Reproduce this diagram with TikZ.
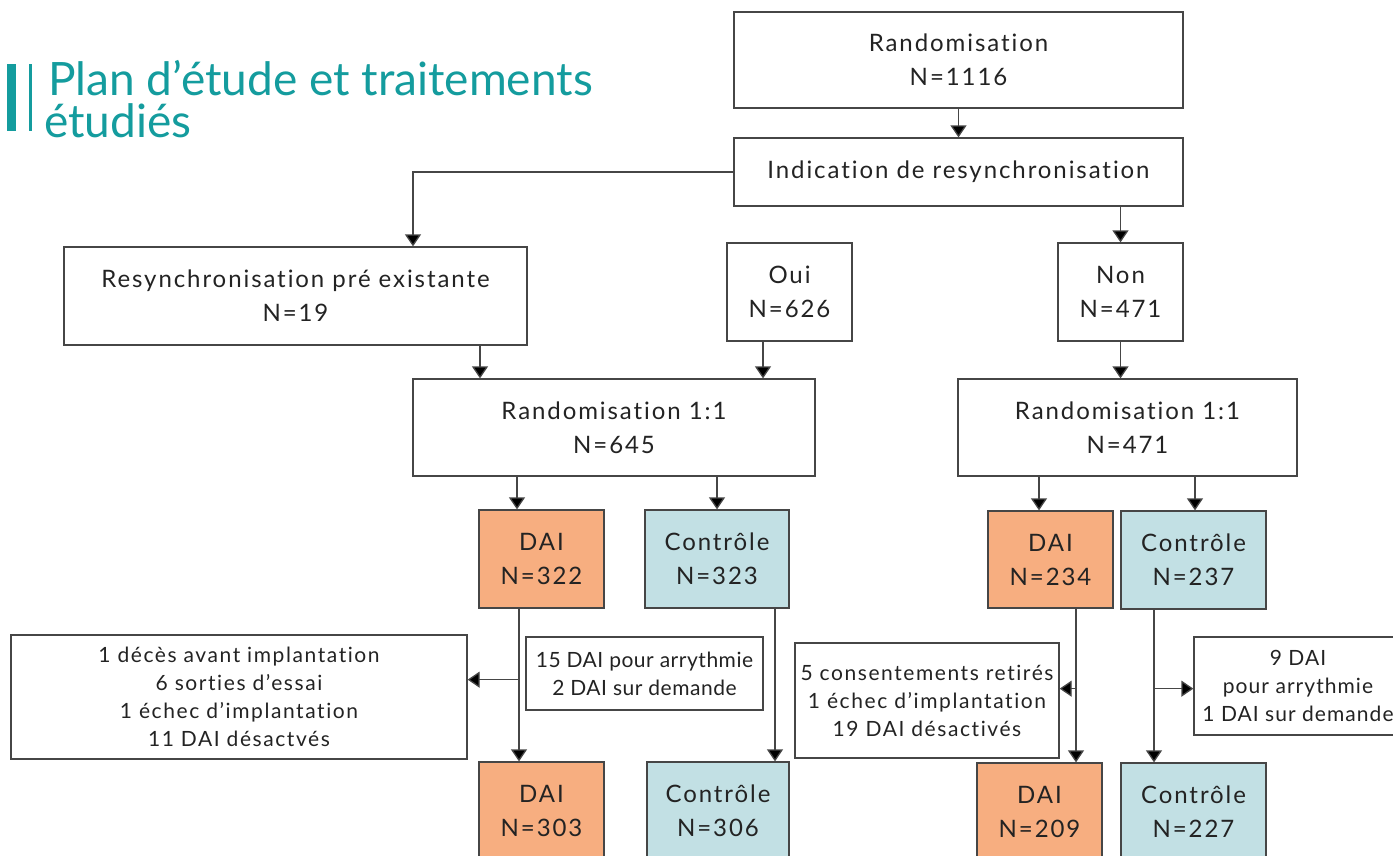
\documentclass[tikz,border=0pt]{standalone}
\usepackage{fontspec}
\usetikzlibrary{arrows.meta,calc}
\setmainfont{Lato}[Ligatures=NoCommon]
\newfontfamily\boxfont{Lato}[LetterSpace=8,Ligatures=NoCommon]
\newfontfamily\sidefont{Lato}[LetterSpace=7.5,Ligatures=NoCommon]
\newfontfamily\tightfont{Lato}[LetterSpace=2.5,Ligatures=NoCommon]
\newfontfamily\edgefont{Lato}[LetterSpace=5,Ligatures=NoCommon]
\definecolor{teal1}{RGB}{20,156,158}
\definecolor{orangef}{RGB}{247,174,128}
\definecolor{bluef}{RGB}{194,224,228}
\definecolor{linec}{RGB}{70,70,70}
\definecolor{txt}{RGB}{35,35,35}
\tikzset{
  box/.style={draw=linec, line width=1.3pt, align=center, inner sep=0pt, text=txt,
    font=\boxfont\fontsize{24}{34}\selectfont},
  sidebox/.style={box, font=\sidefont\fontsize{21}{28}\selectfont},
  daibox/.style={box, fill=orangef},
  ctlbox/.style={box, fill=bluef},
  arr/.style={draw=linec, line width=1.3pt, -{Triangle[length=12pt,width=16pt,fill=black]}},
}
\begin{document}
\begin{tikzpicture}[x=1pt,y=-1pt]
\clip (0,0) rectangle (1393,855);
\fill[white] (0,0) rectangle (1393,855);
% title
\fill[teal1] (7,64) rectangle (16,131);
\fill[teal1] (29,64) rectangle (32,131);
\node[anchor=base west, inner sep=0, text=teal1, font=\fontsize{46}{40}\selectfont] (t1) at (48,95) {Plan d’étude et traitements};
\node[anchor=base west, inner sep=0, text=teal1, font=\fontsize{46}{40}\selectfont] (t2) at (44,137) {étudiés};
% boxes
\node[box, minimum width=449pt, minimum height=96pt] (rand0) at (958.5,60) {Randomisation\\N=1116};
\node[box, minimum width=449pt, minimum height=68pt] (indic) at (958.5,172) {Indication de resynchronisation};
\node[box, minimum width=463pt, minimum height=98pt] (resync) at (295.5,296) {Resynchronisation pré existante\\N=19};
\node[box, minimum width=125pt, minimum height=98pt] (oui) at (789.5,292) {Oui\\N=626};
\node[box, minimum width=125pt, minimum height=98pt] (non) at (1120.5,292) {Non\\N=471};
\node[box, minimum width=402pt, minimum height=97pt] (randL) at (614,427.5) {Randomisation 1:1\\N=645};
\node[box, minimum width=339pt, minimum height=97pt] (randR) at (1127.5,427.5) {Randomisation 1:1\\N=471};
\node[daibox, minimum width=125pt, minimum height=98pt] (dai1) at (541.5,559) {DAI\\N=322};
\node[ctlbox, minimum width=144pt, minimum height=98pt] (ctl1) at (717,559) {Contrôle\\N=323};
\node[daibox, minimum width=125pt, minimum height=97pt] (dai2) at (1050.5,559.5) {DAI\\N=234};
\node[ctlbox, minimum width=145pt, minimum height=98pt] (ctl2) at (1193.5,560) {Contrôle\\N=237};
\node[sidebox, minimum width=456pt, minimum height=124pt] (side1) at (239,697) {1 décès avant implantation\\6 sorties d’essai\\1 échec d’implantation\\11 DAI désactvés};
\node[sidebox, minimum width=237pt, minimum height=73pt, font=\tightfont\fontsize{21}{28}\selectfont] (side2) at (644.5,673.5) {15 DAI pour arrythmie\\2 DAI sur demande};
\node[sidebox, minimum width=264pt, minimum height=115pt] (side3) at (927,700.5) {5 consentements retirés\\1 échec d’implantation\\19 DAI désactivés};
\node[sidebox, minimum width=208pt, minimum height=98pt, font=\edgefont\fontsize{21}{28}\selectfont] (side4) at (1298,686) {9 DAI\\pour arrythmie\\1 DAI sur demande};
\node[daibox, minimum width=125pt, minimum height=98pt] (dai3) at (541.5,811) {DAI\\N=303};
\node[ctlbox, minimum width=142pt, minimum height=98pt] (ctl3) at (718,811) {Contrôle\\N=306};
\node[daibox, minimum width=125pt, minimum height=98pt] (dai4) at (1039.5,812) {DAI\\N=209};
\node[ctlbox, minimum width=145pt, minimum height=98pt] (ctl4) at (1193.5,812) {Contrôle\\N=227};
% connectors
\draw[arr] (rand0.south) -- (indic.north);
\draw[arr] (indic.west) -| ([xshift=117.5pt]resync.north);
\draw[arr] (indic.south -| non.north) -- (non.north);
\draw[arr] ([xshift=184.5pt]resync.south) -- ([xshift=184.5pt]resync.south |- randL.north);
\draw[arr] ([xshift=-26.5pt]oui.south) -- ([xshift=-26.5pt]oui.south |- randL.north);
\draw[arr] (non.south) -- (non.south |- randR.north);
\draw[arr] ([xshift=-24.5pt]dai1.north |- randL.south) -- ([xshift=-24.5pt]dai1.north);
\draw[arr] (ctl1.north |- randL.south) -- (ctl1.north);
\draw[arr] ([xshift=-11.5pt]dai2.north |- randR.south) -- ([xshift=-11.5pt]dai2.north);
\draw[arr] ([xshift=1.5pt]ctl2.north |- randR.south) -- ([xshift=1.5pt]ctl2.north);
\draw[arr] ([xshift=-22.5pt]dai1.south) -- ([xshift=-22.5pt]dai1.south |- dai3.north);
\coordinate (b1) at ([xshift=-22.5pt,yshift=-71pt]dai1.south);
\draw[arr] (b1) -- (b1 -| side1.east);
\draw[arr] ([xshift=58pt]ctl1.south) -- ([xshift=58pt]ctl1.south |- ctl3.north);
\draw[arr] ([xshift=25.5pt]dai2.south) -- ([xshift=25.5pt]dai2.south |- dai4.north);
\coordinate (b3) at ([xshift=25.5pt,yshift=-80pt]dai2.south);
\draw[arr] (b3) -- (b3 -| side3.east);
\draw[arr] ([xshift=-39.5pt]ctl2.south) -- ([xshift=-39.5pt]ctl2.south |- ctl4.north);
\coordinate (b4) at ([xshift=-39.5pt,yshift=-79pt]ctl2.south);
\draw[arr] (b4) -- (b4 -| side4.west);
\end{tikzpicture}
\end{document}
